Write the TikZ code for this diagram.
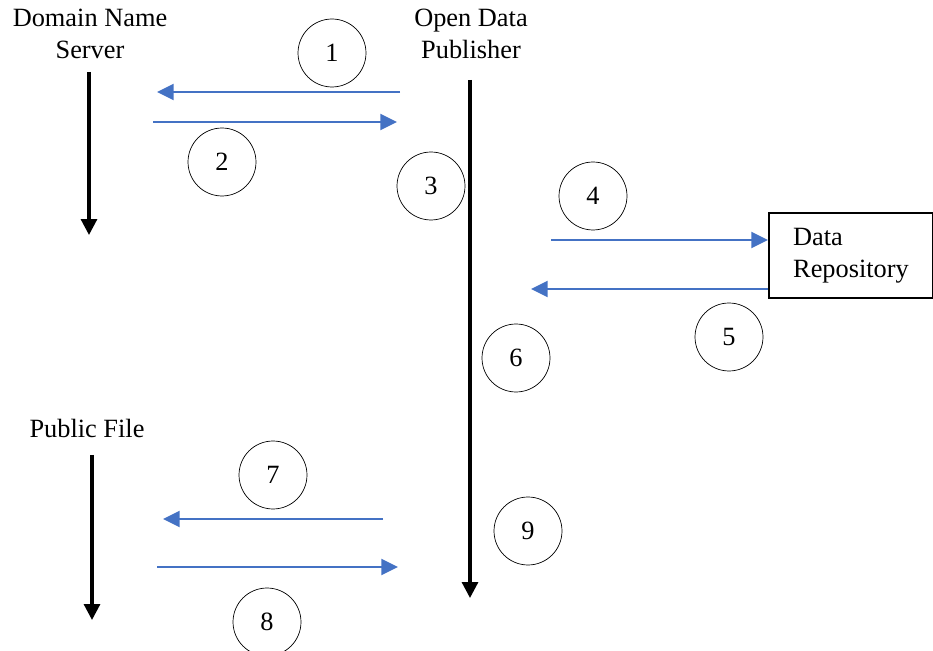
\documentclass[tikz,border=0pt]{standalone}
\usepackage{fontspec}
\setmainfont{Liberation Serif}
\usetikzlibrary{arrows.meta}
\definecolor{msgblue}{RGB}{68,114,196}

\begin{document}
\begin{tikzpicture}[x=0.02cm,y=-0.02cm,
  msg/.style={-{Triangle[length=9.5pt,width=9pt]},line width=1.5pt,draw=msgblue},
  life/.style={-{Triangle[length=9pt,width=9pt]},line width=1.8pt},
  num/.style={circle,draw,line width=0.4pt,minimum size=1.36cm,inner sep=0pt,font=\fontsize{15}{18}\selectfont},
  lbl/.style={align=center,font=\fontsize{15}{18.5}\selectfont}]

\useasboundingbox (0,0) rectangle (933,651);

% actors
\node[lbl] (dns) at (90,34) {Domain Name\\Server};
\node[lbl] (odp) at (471,34) {Open Data\\Publisher};
\node[lbl] (pub) at (87,428) {Public File};
\node[lbl,draw,line width=1.2pt,align=left,minimum width=3.28cm,minimum height=1.7cm] (repo) at (851,255.5) {Data\\Repository};

% lifelines
\coordinate (dns0) at (89,72);
\coordinate (dns1) at (89,235);
\coordinate (odp0) at (470,80);
\coordinate (odp1) at (470,598);
\coordinate (pub0) at (92,455);
\coordinate (pub1) at (92,620);
\draw[life] (dns0) -- (dns1);
\draw[life] (odp0) -- (odp1);
\draw[life] (pub0) -- (pub1);

% message ends
\coordinate (a1) at (400,92);
\coordinate (b1) at (157,92);
\coordinate (a2) at (153,122);
\coordinate (b2) at (397,122);
\coordinate (a4) at (551,240);
\coordinate (b4) at (repo.west |- a4);
\coordinate (a5) at (repo.west |- 0,289);
\coordinate (b5) at (531,289);
\coordinate (a7) at (383,519);
\coordinate (b7) at (163,519);
\coordinate (a8) at (157,567);
\coordinate (b8) at (398,567);

\draw[msg] (a1) -- (b1);
\draw[msg] (a2) -- (b2);
\draw[msg] (a4) -- (b4);
\draw[msg] (a5) -- (b5);
\draw[msg] (a7) -- (b7);
\draw[msg] (a8) -- (b8);

% step numbers
\node[num] (n1) at (332,53) {1};
\node[num] (n2) at (222,162) {2};
\node[num] (n3) at (431,186) {3};
\node[num] (n4) at (593,196) {4};
\node[num] (n5) at (729,337) {5};
\node[num] (n6) at (516,358) {6};
\node[num] (n7) at (273,475) {7};
\node[num] (n8) at (267,622) {8};
\node[num] (n9) at (528,531) {9};
\end{tikzpicture}
\end{document}
